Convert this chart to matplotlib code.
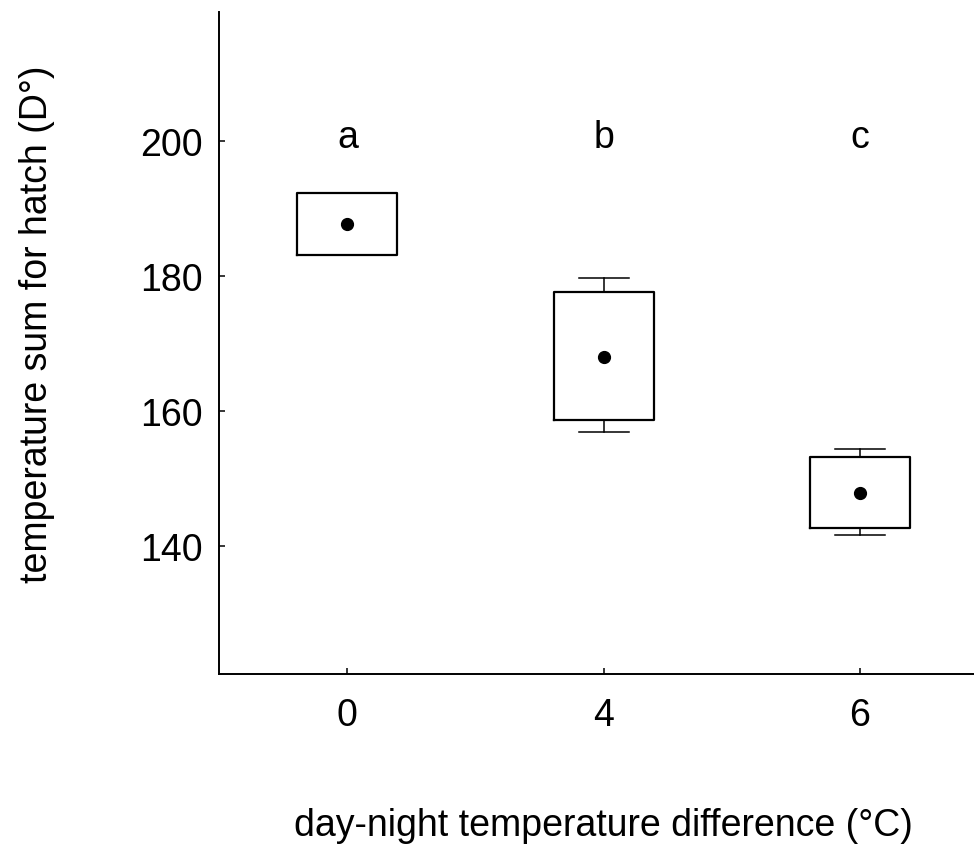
import matplotlib
matplotlib.use("Agg")
import matplotlib.pyplot as plt

categories = ["0", "4", "6"]
means = [187.6, 168.0, 147.9]
box_low = [183.1, 158.7, 142.7]
box_high = [192.25, 177.6, 153.2]
whisk_low = [183.1, 156.8, 141.6]
whisk_high = [192.25, 179.7, 154.4]
letters = ["a", "b", "c"]

plt.rcParams['font.family'] = ['Liberation Sans', 'DejaVu Sans']
FS = 27

fig = plt.figure(figsize=(9.74, 8.45), dpi=100)
ax = fig.add_axes([219.3/974, (845-675.3)/845, (987.8-219.3)/974, (675.3-13.3)/845])

stats = []
for i in range(len(categories)):
    stats.append(dict(med=means[i], mean=means[i], q1=box_low[i], q3=box_high[i],
                      whislo=whisk_low[i], whishi=whisk_high[i], fliers=[]))

pos = list(range(len(categories)))
ax.bxp(stats, positions=pos, widths=0.39, showmeans=True, showfliers=False,
       boxprops=dict(color='black', linewidth=1.6),
       whiskerprops=dict(color='black', linewidth=1.1),
       capprops=dict(color='black', linewidth=1.1),
       medianprops=dict(linewidth=0),
       meanprops=dict(marker='o', markerfacecolor='black', markeredgecolor='black', markersize=8.5))

for i, l in enumerate(letters):
    ax.text(pos[i], 199.1, l, ha='center', va='baseline', fontsize=FS)

ax.set_xlim(-0.5, 2.5)
ax.set_ylim(121, 219)
ax.set_yticks([140, 160, 180, 200])
ax.set_xticks(pos)
ax.set_xticklabels(categories)
ax.tick_params(direction='in', length=4, width=1.1, labelsize=FS)
ax.tick_params(axis='x', pad=16)
ax.tick_params(axis='y', pad=12)
for s in ['top', 'right']:
    ax.spines[s].set_visible(False)
for s in ['left', 'bottom']:
    ax.spines[s].set_linewidth(1.4)

ax.set_ylabel("temperature sum for hatch (D°)", fontsize=FS)
ax.yaxis.set_label_coords(-0.214, 0.53)
ax.set_xlabel("day-night temperature difference (°C)", fontsize=FS)
ax.xaxis.set_label_coords(0.5, -0.2)

fig.savefig("out.png", dpi=100)
